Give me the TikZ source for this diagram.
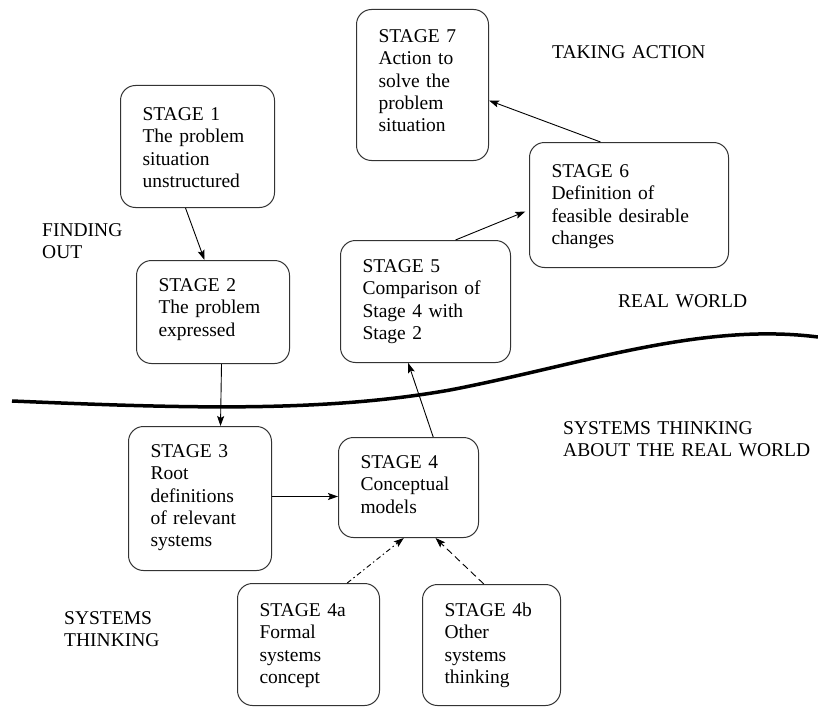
\documentclass[tikz,border=0pt]{standalone}
\usepackage{fontspec}
\setmainfont{Liberation Serif}
\usepackage{tikz}
\usetikzlibrary{positioning}
\usetikzlibrary{arrows.meta}

\begin{document}
\begin{tikzpicture}[x=1pt,y=-1pt,
  every node/.style={font=\fontsize{19.5}{22.3}\selectfont,inner sep=0pt},
  stage/.style={draw=black!80,line width=1pt,rounded corners=15pt,anchor=north west,align=left,inner xsep=22pt,inner ysep=0pt},
  region/.style={anchor=base west,align=left,text width=260pt},
  flow/.style={-{Stealth[length=10pt,width=7pt,inset=2pt]},line width=0.9pt},
  dashdot/.style={dash pattern=on 5pt off 3pt on 1.5pt off 3pt},
  longdash/.style={dash pattern=on 7pt off 4pt}]
\useasboundingbox (0,0) rectangle (818,706);

\node[stage,text width=110pt,text height=35pt,text depth=87pt] (s1) at (120,85) {STAGE 1\\The problem\\situation\\unstructured};
\node[stage,text width=109pt,text height=31pt,text depth=72pt] (s2) at (136,260) {STAGE 2\\The problem\\expressed};
\node[stage,text width=99pt,text height=31pt,text depth=113pt] (s3) at (128,426) {STAGE 3\\Root\\definitions\\of relevant\\systems};
\node[stage,text width=96pt,text height=31pt,text depth=69pt] (s4) at (338,437) {STAGE 4\\Conceptual\\models};
\node[stage,text width=126pt,text height=32pt,text depth=90pt] (s5) at (340,240) {STAGE 5\\Comparison of\\Stage 4 with\\Stage 2};
\node[stage,text width=155pt,text height=35pt,text depth=90pt] (s6) at (529,142) {STAGE 6\\Definition of\\feasible desirable\\changes};
\node[stage,text width=88pt,text height=33pt,text depth=118pt] (s7) at (356,9) {STAGE 7\\Action to\\solve the\\problem\\situation};
\node[stage,text width=98pt,text height=33pt,text depth=89pt] (s4a) at (237,583) {STAGE 4a\\Formal\\systems\\concept};
\node[stage,text width=94pt,text height=32pt,text depth=89pt] (s4b) at (422,584) {STAGE 4b\\Other\\systems\\thinking};

\node[region] (findout) at (42,236) {FINDING\\OUT};
\node[region] (takeaction) at (552,59) {TAKING ACTION};
\node[region] (realworld) at (618,307) {REAL WORLD};
\node[region] (thinkabout) at (563,434) {SYSTEMS THINKING\\ABOUT THE REAL WORLD};
\node[region] (systhink) at (64,624) {SYSTEMS\\THINKING};

\draw[line width=3.5pt] (12,401) .. controls (180,408) and (320,413) .. (450,390)
  .. controls (580,365) and (700,322) .. (818,337);

\path[flow]
  ([xshift=-12pt]s1.south) edge ([xshift=-8.5pt]s2.north)
  ([xshift=8.5pt]s2.south) edge ([xshift=20.5pt]s3.north)
  ([yshift=2pt]s3.east) edge ([yshift=2pt]s3.east -| s4.west)
  ([xshift=24.7pt]s4.north) edge ([xshift=-17.3pt]s5.south)
  ([xshift=30pt]s5.north) edge[shorten >=4pt] ([yshift=-5pt]s6.west)
  ([xshift=-28.5pt]s6.north) edge ([yshift=-15.5pt]s7.east)
  ([xshift=38.7pt]s4a.north) edge[dashdot] ([xshift=-4.7pt]s4.south)
  ([xshift=-7.7pt]s4b.north) edge[longdash] ([xshift=27pt]s4.south)
  ;
\end{tikzpicture}
\end{document}
